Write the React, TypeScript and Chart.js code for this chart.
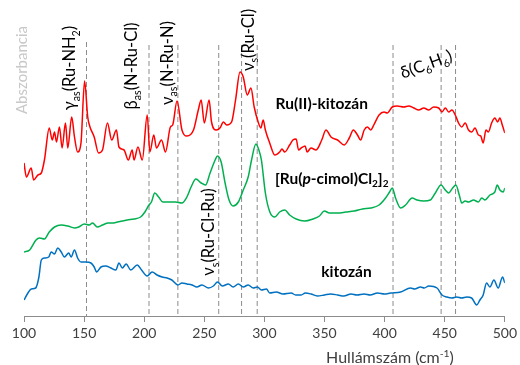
import { useEffect, useRef } from 'react';
import { Chart, registerables } from 'chart.js';

Chart.register(...registerables);

// ---------------- DATA ----------------
const RU_KITOZAN_X = [100, 102, 106, 108, 111.6, 114.4, 117, 121, 123.5, 125.4, 127, 129.5, 131.7, 134.5, 136.4, 139.7, 142, 144.6, 147.4, 150.4, 153, 154.9, 158.4, 162, 165.3, 169.4, 173, 176.9, 179, 183.2, 186.8, 190, 191.5, 194.8, 198.4, 202.5, 204.7, 208, 210.2, 214.4, 217.7, 221.8, 223.7, 227.3, 231.4, 235.5, 241, 245, 247.4, 250, 254, 256, 260, 263, 265.9, 268.6, 272.7, 276, 279.7, 282.4, 285.7, 288.8, 291.5, 294.8, 297, 299, 300.8, 304.4, 308.6, 312.7, 314.6, 316.9, 321, 323.7, 326.4, 328.4, 330.6, 333.9, 335.5, 338.8, 343, 347.7, 351.2, 355.4, 360.9, 366.4, 370.6, 374, 377.4, 380, 383, 385.7, 388.5, 391, 395.4, 399.5, 402.2, 406.4, 410.5, 416, 420, 424.3, 428.4, 432.6, 436.7, 440.8, 445, 447.7, 450.5, 453.3, 456, 458.8, 461.5, 464.2, 467, 469.8, 472.5, 475.2, 478, 480, 482, 484.3, 486.3, 489, 491.7, 494, 495.9, 497.9, 500];
const RU_KITOZAN_Y = [1.53, 1.39, 1.48, 1.36, 1.41, 1.43, 1.56, 1.88, 1.76, 1.84, 1.74, 1.89, 1.68, 1.93, 1.68, 1.99, 1.79, 1.64, 1.73, 2.35, 1.99, 1.89, 1.79, 1.63, 1.66, 1.93, 1.76, 1.86, 1.69, 1.66, 1.56, 1.66, 1.56, 1.69, 1.56, 2.01, 1.64, 1.81, 1.68, 1.76, 1.64, 1.89, 1.91, 2.15, 1.86, 1.80, 1.86, 2.06, 2.16, 1.93, 2.16, 1.94, 1.86, 1.88, 1.94, 1.91, 1.94, 2.16, 2.44, 2.39, 2.21, 2.28, 2.09, 1.94, 1.88, 1.96, 1.86, 1.73, 1.61, 1.64, 1.67, 1.64, 1.71, 1.76, 1.77, 1.66, 1.68, 1.70, 1.64, 1.68, 1.66, 1.76, 1.86, 1.79, 1.76, 1.71, 1.78, 1.86, 1.81, 1.76, 1.86, 1.89, 1.86, 1.91, 2.01, 2.04, 2.03, 2.09, 2.10, 2.09, 2.10, 2.08, 2.06, 2.08, 2.06, 2.09, 2.08, 2.04, 2.08, 2.04, 2.06, 2.01, 1.93, 1.89, 1.93, 1.86, 1.84, 1.88, 1.81, 1.80, 1.73, 1.86, 1.84, 1.93, 1.98, 1.94, 1.98, 1.91, 1.83];

const RU_CIMOL_X = [100, 104.7, 110, 113, 117, 121, 125.4, 131, 136.4, 142, 145.5, 150.2, 154.3, 157, 161, 165.3, 170, 173.5, 177.7, 181.8, 186, 191.5, 197, 200.6, 204, 206, 208.8, 212, 215.5, 220.4, 226, 231.4, 235.5, 239, 243, 247.4, 251, 254.8, 259, 261, 264, 267.3, 270.6, 274, 278.3, 282.4, 286.5, 289.3, 292.9, 295.4, 297.5, 300.8, 304.5, 308.6, 312.7, 316.9, 321, 326.4, 333.4, 340.3, 345.8, 349.9, 354, 361, 367.8, 374.7, 381.6, 388.5, 395.4, 400.8, 404.1, 406.4, 409.1, 413.3, 417.4, 422.9, 427, 432.6, 438, 442.2, 446.9, 450.5, 453.3, 456.6, 459.3, 462.1, 464.2, 467, 469.8, 474, 478, 480.8, 483.5, 487.6, 491.7, 493.7, 495.9, 498.7, 500];
const RU_CIMOL_Y = [0.64, 0.66, 0.76, 0.78, 0.77, 0.84, 0.89, 0.91, 0.90, 0.88, 0.89, 0.92, 0.91, 0.93, 0.89, 0.91, 0.93, 0.93, 0.94, 0.95, 0.96, 0.97, 0.99, 1.04, 1.11, 1.14, 1.23, 1.19, 1.14, 1.14, 1.14, 1.13, 1.19, 1.29, 1.37, 1.33, 1.31, 1.43, 1.56, 1.60, 1.54, 1.33, 1.16, 1.10, 1.14, 1.26, 1.39, 1.56, 1.72, 1.66, 1.56, 1.23, 1.04, 0.99, 1.04, 1.06, 1.01, 0.97, 0.95, 0.97, 1.00, 1.05, 1.03, 1.03, 1.04, 1.05, 1.07, 1.08, 1.11, 1.18, 1.24, 1.28, 1.18, 1.08, 1.11, 1.18, 1.16, 1.15, 1.16, 1.23, 1.31, 1.26, 1.23, 1.28, 1.31, 1.21, 1.13, 1.15, 1.14, 1.16, 1.14, 1.18, 1.16, 1.21, 1.24, 1.31, 1.26, 1.24, 1.28];

const KITOZAN_X = [100, 103.3, 106, 109.7, 112.4, 114.4, 117, 120.6, 122.6, 125.4, 128, 131, 133.6, 137.2, 139.2, 142, 144.6, 147.4, 151.6, 155.7, 158.4, 160.4, 164, 168, 172.2, 176.4, 179, 181.8, 185, 188.8, 194.2, 197.8, 202.5, 206.6, 210.7, 214.9, 219, 223, 228, 231.4, 235.5, 239.7, 243.8, 248, 253.5, 257.6, 261, 265, 270, 274, 278.3, 282.4, 286.5, 290.7, 294.2, 297.5, 301.7, 304.4, 309.9, 315.4, 322.3, 326, 330.6, 334, 338.8, 344, 349.9, 355, 361, 366, 372, 377, 383, 388, 394, 400, 405, 413.3, 421.5, 425, 429.8, 433, 436.7, 443.6, 447.7, 451.8, 456, 460, 464.2, 468.3, 472.4, 476.6, 479.3, 482, 484.8, 487.6, 490.9, 494.5, 498.1, 500];
const KITOZAN_Y = [0.16, 0.23, 0.27, 0.28, 0.39, 0.56, 0.58, 0.59, 0.64, 0.62, 0.68, 0.64, 0.59, 0.63, 0.59, 0.66, 0.58, 0.54, 0.54, 0.53, 0.49, 0.44, 0.49, 0.50, 0.48, 0.46, 0.53, 0.48, 0.52, 0.46, 0.51, 0.46, 0.40, 0.44, 0.41, 0.39, 0.38, 0.36, 0.31, 0.33, 0.32, 0.31, 0.29, 0.31, 0.28, 0.30, 0.34, 0.30, 0.32, 0.29, 0.32, 0.29, 0.31, 0.28, 0.29, 0.26, 0.27, 0.23, 0.24, 0.22, 0.23, 0.21, 0.21, 0.23, 0.22, 0.20, 0.21, 0.22, 0.21, 0.20, 0.22, 0.21, 0.22, 0.21, 0.23, 0.22, 0.23, 0.24, 0.28, 0.27, 0.29, 0.28, 0.30, 0.28, 0.21, 0.19, 0.18, 0.19, 0.18, 0.19, 0.18, 0.11, 0.16, 0.21, 0.33, 0.29, 0.36, 0.28, 0.39, 0.33];

// Band positions (cm-1) of the dashed reference lines and their top level
const BAND_X = [152, 204, 228, 262, 281, 294, 407, 447, 459];
const BAND_TOP = [2.74, 2.71, 2.71, 2.71, 2.71, 2.71, 2.71, 2.71, 2.71];

const X_MIN = 100;
const X_MAX = 500;
const X_STEP = 50;

// ---------------- TEXT ----------------
type Seg = { t: string; sub?: boolean; sup?: boolean; it?: boolean };
const FONT = 'Lato, "Open Sans", sans-serif';

// rotated band labels: [segments, x (cm-1), y, angle in degrees]
const BAND_LABELS: [Seg[], number, number, number][] = [
  [[{ t: 'γ' }, { t: 'as', sub: true }, { t: '(Ru-NH' }, { t: '2', sub: true }, { t: ')' }], 137.8, 2.48, -90],
  [[{ t: 'β' }, { t: 'as', sub: true }, { t: '(N-Ru-Cl)' }], 189, 2.5, -90],
  [[{ t: 'ν' }, { t: 'as', sub: true }, { t: '(N-Ru-N)' }], 218.8, 2.53, -90],
  [[{ t: 'ν' }, { t: 's', sub: true }, { t: '(Ru-Cl)' }], 286.5, 2.76, -90],
  [[{ t: 'ν' }, { t: 's', sub: true }, { t: '(Ru-Cl-Ru)' }], 253.5, 0.84, -90],
  [[{ t: 'δ(C' }, { t: '6', sub: true }, { t: 'H' }, { t: '6', sub: true }, { t: ')' }], 434.5, 2.52, -20],
];

const SERIES_LABELS: [Seg[], number, number][] = [
  [[{ t: 'Ru(II)-kitozán' }], 347.7, 2.13],
  [[{ t: '[Ru(' }, { t: 'p', it: true }, { t: '-cimol)Cl' }, { t: '2', sub: true }, { t: ']' }, { t: '2', sub: true }], 356, 1.38],
  [[{ t: 'kitozán' }], 368.3, 0.45],
];

const X_TITLE: Seg[] = [{ t: 'Hullámszám (cm' }, { t: '-1', sup: true }, { t: ')' }];
const Y_TITLE = 'Abszorbancia';

function fontOf(s: Seg, size: number, weight: string) {
  const sz = s.sub || s.sup ? size * 0.65 : size;
  return `${s.it ? 'italic ' : ''}${weight} ${sz}px ${FONT}`;
}

function drawRich(ctx: CanvasRenderingContext2D, segs: Seg[], cx: number, cy: number, size: number, weight: string, color: string, angleDeg: number) {
  ctx.save();
  ctx.translate(cx, cy);
  ctx.rotate((angleDeg * Math.PI) / 180);
  let w = 0;
  for (const s of segs) {
    ctx.font = fontOf(s, size, weight);
    w += ctx.measureText(s.t).width;
  }
  let x = -w / 2;
  ctx.fillStyle = color;
  ctx.textAlign = 'left';
  ctx.textBaseline = 'alphabetic';
  const base = size * 0.36;
  for (const s of segs) {
    ctx.font = fontOf(s, size, weight);
    const dy = s.sub ? size * 0.25 : s.sup ? -size * 0.38 : 0;
    ctx.fillText(s.t, x, base + dy);
    x += ctx.measureText(s.t).width;
  }
  ctx.restore();
}

const annotPlugin = {
  id: 'annot',
  afterDatasetsDraw(chart: any) {
    const { ctx, scales } = chart;
    const xs = scales.x;
    const ys = scales.y;
    for (const [segs, xv, yv, ang] of BAND_LABELS) {
      drawRich(ctx, segs, xs.getPixelForValue(xv), ys.getPixelForValue(yv), 16.5, 'normal', '#000000', ang);
    }
    for (const [segs, xv, yv] of SERIES_LABELS) {
      drawRich(ctx, segs, xs.getPixelForValue(xv), ys.getPixelForValue(yv), 15.5, 'bold', '#000000', 0);
    }
    drawRich(ctx, X_TITLE, 390, 357, 16, 'normal', '#404040', 0);
    drawRich(ctx, [{ t: Y_TITLE }], 22, 70, 15, 'normal', '#c8c8c8', -90);
  },
};

export default function App() {
  const ref = useRef<HTMLCanvasElement | null>(null);
  useEffect(() => {
    if (!ref.current) return;
    const line = (xs: number[], ys: number[], color: string) => ({
      data: xs.map((x, i) => ({ x, y: ys[i] })),
      borderColor: color,
      borderWidth: 1.5,
      pointRadius: 0,
      tension: 0.4,
      cubicInterpolationMode: 'monotone' as const,
      fill: false,
    });
    const bands = BAND_X.map((bx, i) => ({
      data: [{ x: bx, y: BAND_TOP[i] }, { x: bx, y: 0 }],
      borderColor: '#8c8c8c',
      borderWidth: 1,
      borderDash: [5, 3],
      pointRadius: 0,
      tension: 0,
      fill: false,
    }));
    const chart = new Chart(ref.current, {
      type: 'line',
      data: {
        datasets: [
          line(RU_KITOZAN_X, RU_KITOZAN_Y, '#ff0000'),
          line(RU_CIMOL_X, RU_CIMOL_Y, '#00b050'),
          line(KITOZAN_X, KITOZAN_Y, '#0070c0'),
          ...bands,
        ] as any,
      },
      options: {
        animation: false,
        responsive: false,
        layout: { padding: { left: 24, right: 12, top: 0, bottom: 0 } },
        plugins: { legend: { display: false }, tooltip: { enabled: false } },
        scales: {
          x: {
            type: 'linear',
            min: X_MIN,
            max: X_MAX,
            afterFit: (s: any) => { s.height = 49; },
            ticks: { stepSize: X_STEP, color: '#404040', font: { family: FONT, size: 14 }, padding: 3, maxRotation: 0 },
            grid: { drawOnChartArea: false, drawTicks: true, tickLength: 6, color: '#8c8c8c' },
            border: { color: '#8c8c8c', width: 1 },
          },
          y: { display: false, min: 0, max: 3.16 },
        },
      },
      plugins: [annotPlugin],
    });
    return () => chart.destroy();
  }, []);
  return (
    <div style={{ position: 'absolute', left: 0, top: 0, width: 520, height: 365 }}>
      <canvas ref={ref} width={520} height={365} />
    </div>
  );
}
